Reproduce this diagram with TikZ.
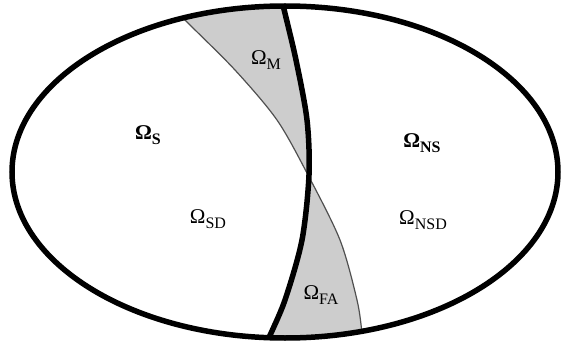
\documentclass[tikz,border=0pt]{standalone}
\usepackage{fontspec}
\setmainfont{Liberation Serif}
\newcommand{\omlab}[1]{Ω\raisebox{-0.45ex}{\fontsize{16}{16}\selectfont #1}}
\definecolor{regiongray}{RGB}{205,205,205}
\definecolor{thingray}{RGB}{80,80,80}
\begin{document}
\begin{tikzpicture}[x=1pt,y=-1pt,
  lab/.style={font=\fontsize{21}{21}\selectfont, inner sep=0pt},
  boldlab/.style={lab, font=\fontsize{21}{21}\selectfont\bfseries},
  outline/.style={line width=5.5pt},
  thickcurve/.style={line width=5.5pt},
  thincurve/.style={line width=1.2pt, draw=thingray}]
\useasboundingbox (0,0) rectangle (563,345);
\begin{scope}
  \clip (285,172) ellipse [x radius=273, y radius=166];
  \fill[regiongray] plot[smooth] coordinates {(281,-5) (283,5) (296,60) (307,120) (309,175) (302,240) (285,300) (268,340) (264,352)}
     -- plot[smooth] coordinates {(363,347) (362,333) (357,300) (340,240) (308,175) (277,120) (235,70) (187,22) (178,12)} -- cycle;
  \draw[thincurve] plot[smooth] coordinates {(178,12) (187,22) (235,70) (277,120) (308,175) (340,240) (357,300) (362,333) (363,347)};
  \draw[thickcurve] plot[smooth] coordinates {(281,-5) (283,5) (296,60) (307,120) (309,175) (302,240) (285,300) (268,340) (264,352)};
\end{scope}
\draw[outline] (285,172) ellipse [x radius=273, y radius=166];
\node[lab] (m) at (266,60) {\omlab{M}};
\node[boldlab] (s) at (148,135) {\omlab{S}};
\node[lab] (sd) at (208,219) {\omlab{SD}};
\node[boldlab] (ns) at (422,143) {\omlab{NS}};
\node[lab] (nsd) at (423,220) {\omlab{NSD}};
\node[lab] (fa) at (321,295) {\omlab{FA}};
\end{tikzpicture}
\end{document}
